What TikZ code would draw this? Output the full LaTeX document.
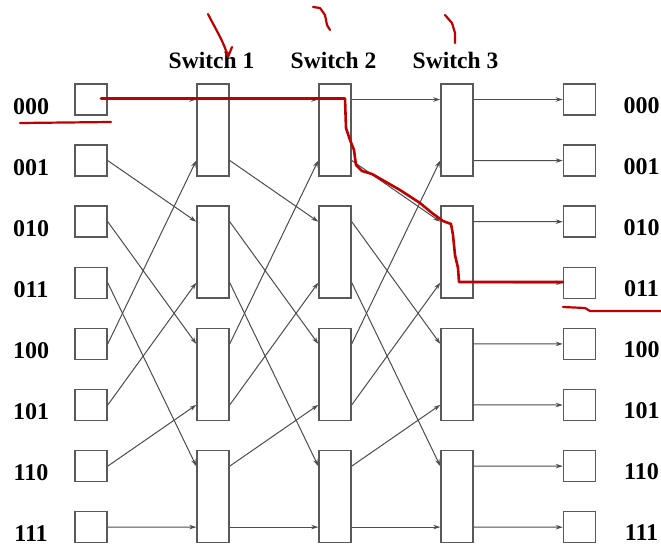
\documentclass[tikz,border=0pt]{standalone}
\usepackage{fontspec}
\setmainfont{Liberation Serif}
\usetikzlibrary{arrows.meta}

\begin{document}
\begin{tikzpicture}[x=1pt,y=-1pt,
		cell/.style={draw=black!65, line width=1.5pt, minimum width=32pt, minimum height=31pt, inner sep=0pt},
		sw/.style={draw=black!65, line width=1.5pt, minimum width=32pt, minimum height=92pt, inner sep=0pt},
		bits/.style={font=\fontsize{24}{24}\selectfont\bfseries, inner sep=0pt, anchor=base},
		head/.style={font=\fontsize{23.5}{23.5}\selectfont\bfseries, inner sep=0pt, anchor=base},
		link/.style={draw=black!70, line width=1pt, -{Stealth[length=7pt,width=4.5pt]}},
		pen/.style={draw=red!75!black, line width=2.6pt, line cap=round, line join=round}]
		\useasboundingbox (0,0) rectangle (661,544);
		
		\foreach \r/\b in {0/000,1/001,2/010,3/011,4/100,5/101,6/110,7/111} {
			\node[cell] (in\r) at (91,{99.5+61.1*\r}) {};
			\node[cell] (out\r) at (579.5,{99.5+61.1*\r}) {};
			\node[bits] (lin\r) at (31,{114.5+61*\r}) {\b};
			\node[bits] (lout\r) at (641.5,{113.5+61*\r}) {\b};
		}
		\foreach \c/\x in {1/213,2/335,3/457} {
			\node[head] (h\c) at (\x-1.5,68) {Switch \c};
			\foreach \k in {0,...,3} {
				\node[sw] (s\c\k) at (\x,{130+122.2*\k}) {};
				\coordinate (s\c\k-i0) at ([yshift=30.5pt]s\c\k.west);
				\coordinate (s\c\k-i1) at ([yshift=-30.5pt]s\c\k.west);
				\coordinate (s\c\k-o0) at ([yshift=30.5pt]s\c\k.east);
				\coordinate (s\c\k-o1) at ([yshift=-30.5pt]s\c\k.east);
			}
		}
		
		\foreach \r in {0,...,7} {
			\pgfmathtruncatemacro\s{mod(2*\r,8)+int(\r/4)}
			\pgfmathtruncatemacro\k{int(\s/2)}
			\pgfmathtruncatemacro\p{mod(\s,2)}
			\draw[link] (in\r.east) -- (s1\k-i\p);
		}
		\foreach \c/\n in {1/2,2/3} {
			\foreach \r in {0,...,7} {
				\pgfmathtruncatemacro\s{mod(2*\r,8)+int(\r/4)}
				\pgfmathtruncatemacro\k{int(\s/2)}
				\pgfmathtruncatemacro\p{mod(\s,2)}
				\pgfmathtruncatemacro\j{int(\r/2)}
				\pgfmathtruncatemacro\q{mod(\r,2)}
				\draw[link] (s\c\j-o\q) -- (s\n\k-i\p);
			}
		}
		\foreach \r in {0,...,7} {
			\pgfmathtruncatemacro\j{int(\r/2)}
			\pgfmathtruncatemacro\q{mod(\r,2)}
			\draw[link] (s3\j-o\q) -- (out\r.west);
		}
		
		%\draw[pen] (in0.center) -- (out3.west);
		\draw[pen] (101,98.5) -- (345,98.5) -- (346,128) -- (350,140) -- (354,150) -- (356,165) -- (362,171) -- (372,174) -- (400,190) -- (420,203) -- (432,213) -- (443,221) -- (451,224) -- (453,235) -- (455,255) -- (458,268) -- (459,282) -- (563,282);
		\draw[pen, line width=2.2pt] (20,123) -- (111,122);
		\draw[pen, line width=2.2pt] (563,307) -- (585,308) -- (590,311) -- (661,311);
		\draw[pen, line width=2.2pt] (208,14) .. controls (216,30) and (224,42) .. (228,57) -- (232,47);
		\draw[pen, line width=2.2pt] (313,7) -- (320,8) -- (325,15) -- (327,25) -- (330,30);
		\draw[pen, line width=2.2pt] (445,15) -- (452,23) -- (455,33) -- (455,43);
	\end{tikzpicture}
\end{document}
